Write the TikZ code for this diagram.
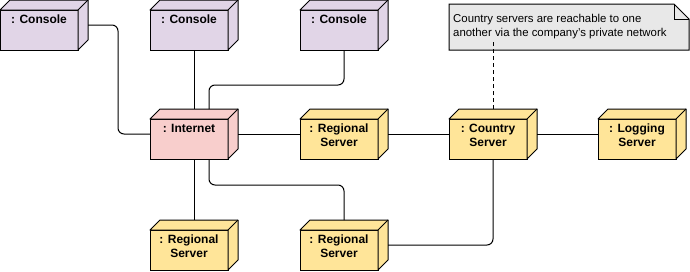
\documentclass[tikz,border=0pt]{standalone}
\usepackage{fontspec}
\setmainfont{Liberation Sans}
\definecolor{consolefill}{HTML}{E1D5E7}
\definecolor{netfill}{HTML}{F8CECC}
\definecolor{srvfill}{HTML}{FFE599}
\definecolor{notefill}{HTML}{E8E8E8}
% name, x, y (top-left of front face, image px), fill, text
\newcommand\mkdevice[5]{%
  \node[devface, fill=#4] (#1) at (#2+39,#3+20) {};
  \filldraw[fill=#4, line width=1pt, line join=round]
    (#1.north west) -- ++(10pt,10pt) -- ++(78pt,0pt) -- ++(0pt,-40pt)
    -- (#1.south east) -- (#1.north east) -- cycle;
  \draw[line width=1pt] (#1.north east) -- ++(10pt,10pt);
  \node[devtext] (#1-label) at ([yshift=-5pt]#1.north) {#5};
}
\begin{document}
\begin{tikzpicture}[x=1pt,y=-1pt,
  devface/.style={draw, line width=1pt, minimum width=78pt, minimum height=40pt, inner sep=0pt, outer sep=0pt},
  devtext/.style={font=\bfseries\fontsize{12}{14}\selectfont, align=center, inner sep=0pt, anchor=north},
  conn/.style={draw, line width=1pt, rounded corners=6pt},
  notestyle/.style={font=\fontsize{11.4}{14}\selectfont, align=left, inner sep=0pt, anchor=north west}]
\useasboundingbox (0,0) rectangle (690,271);

% devices
\mkdevice{c1}{0}{10}{consolefill}{: Console}
\mkdevice{c2}{150}{10}{consolefill}{: Console}
\mkdevice{c3}{300}{10}{consolefill}{: Console}
\mkdevice{int}{150}{119}{netfill}{: Internet}
\mkdevice{r1}{300}{119}{srvfill}{: Regional\\Server}
\mkdevice{cs}{449}{119}{srvfill}{: Country\\Server}
\mkdevice{lg}{598}{119}{srvfill}{: Logging\\Server}
\mkdevice{rb1}{150}{230}{srvfill}{: Regional\\Server}
\mkdevice{rb2}{300}{230}{srvfill}{: Regional\\Server}

% note
\coordinate (nNW) at (449,4);
\coordinate (nSE) at (689,50);
\filldraw[fill=notefill, line width=1pt]
  (nNW) -- ([xshift=-15pt]nNW -| nSE) -- ([yshift=-15pt]nNW -| nSE)
  -- (nSE) -- (nNW |- nSE) -- cycle;
\draw[line width=1pt] ([xshift=-15pt]nNW -| nSE) -- ([shift={(-15pt,-15pt)}]nNW -| nSE) -- ([yshift=-15pt]nNW -| nSE);
\node[notestyle] (note) at (453,14) {Country servers are reachable to one\\another via the company's private network};

% connectors
\draw[conn] ([shift={(10pt,5pt)}]c1.east) -- ++(30,0) |- ([yshift=5pt]int.west);
\draw[conn] ([xshift=5pt]c2.south) -- ([shift={(5pt,10pt)}]int.north);
\draw[conn] ([shift={(20pt,10pt)}]int.north) -- ++(0,-24) -| ([xshift=5pt]c3.south);
\draw[conn] ([xshift=5pt]int.south) -- ([shift={(5pt,10pt)}]rb1.north);
\draw[conn] ([xshift=20pt]int.south) -- ++(0,26) -| ([shift={(5pt,10pt)}]rb2.north);
\draw[conn] ([shift={(10pt,5pt)}]int.east) -- ([yshift=5pt]r1.west);
\draw[conn] ([shift={(10pt,5pt)}]r1.east) -- ([yshift=5pt]cs.west);
\draw[conn] ([shift={(10pt,5pt)}]cs.east) -- ([yshift=5pt]lg.west);
\draw[conn] ([xshift=5pt]cs.south) |- ([shift={(10pt,5pt)}]rb2.east);
\draw[line width=1pt, dash pattern=on 4pt off 3pt] ([shift={(5pt,10pt)}]cs.north) -- ([shift={(5pt,10pt)}]cs.north |- nSE);
\end{tikzpicture}
\end{document}
